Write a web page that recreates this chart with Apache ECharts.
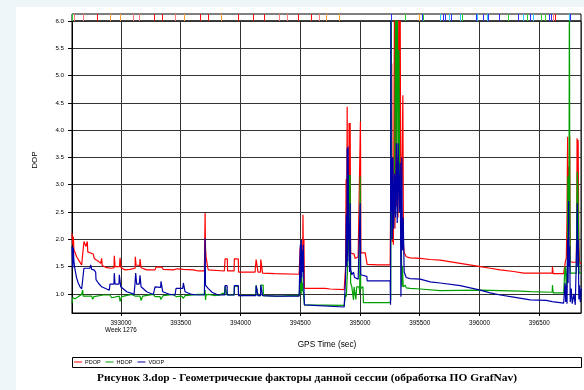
<!DOCTYPE html>
<html>
<head>
<meta charset="utf-8">
<script src="https://cdn.jsdelivr.net/npm/echarts@6/dist/echarts.min.js"></script>
<style>
  html, body { margin: 0; padding: 0; background: #eef6f9; }
  #chart { position: absolute; left: 16px; top: 7px; width: 568px; height: 383px; background: #fff; }
</style>
</head>
<body>
<div id="chart"></div>
<script>
// GPS time (s) / DOP value pairs
const pdop = [
  [392590, 2.11], [392596, 1.90], [392601, 2.05], [392606, 1.81], [392629, 1.68], [392651, 1.60],
  [392671, 1.53], [392684, 1.50], [392690, 1.96], [392698, 1.93], [392707, 1.87], [392716, 1.87],
  [392718, 1.96], [392722, 1.77], [392746, 1.75], [392768, 1.73], [392776, 1.65], [392810, 1.60],
  [392830, 1.56], [392836, 1.56], [392838, 1.65], [392843, 1.52], [392880, 1.48], [392922, 1.47],
  [392942, 1.48], [392944, 1.70], [392950, 1.50], [392988, 1.50], [392992, 1.66], [393000, 1.48],
  [393034, 1.44], [393075, 1.45], [393118, 1.47], [393120, 1.68], [393126, 1.53], [393157, 1.52],
  [393159, 1.64], [393168, 1.48], [393215, 1.44], [393285, 1.44], [393293, 1.49], [393341, 1.49],
  [393354, 1.45], [393438, 1.44], [393472, 1.46], [393522, 1.45], [393606, 1.44], [393647, 1.42],
  [393698, 1.42], [393702, 1.42], [393704, 2.48], [393707, 1.85], [393712, 1.68], [393726, 1.48],
  [393731, 1.44], [393865, 1.42], [393869, 1.42], [393871, 1.64], [393890, 1.64], [393892, 1.42],
  [393947, 1.42], [393949, 1.64], [393982, 1.64], [393984, 1.40], [394122, 1.40], [394129, 1.40],
  [394131, 1.63], [394145, 1.63], [394147, 1.40], [394168, 1.40], [394170, 1.63], [394183, 1.63],
  [394185, 1.38], [394290, 1.37], [394491, 1.36], [394497, 1.35], [394500, 1.85], [394504, 1.40],
  [394508, 1.87], [394512, 1.45], [394516, 1.80], [394520, 1.50], [394523, 2.45], [394527, 1.55],
  [394531, 2.00], [394535, 1.10], [394541, 1.11], [394709, 1.10], [394750, 1.09], [394868, 1.08],
  [394876, 1.10], [394880, 1.50], [394884, 3.10], [394888, 1.60], [394893, 4.43], [394897, 1.70],
  [394901, 3.50], [394905, 1.80], [394909, 4.13], [394913, 2.00], [394918, 4.13], [394922, 1.75],
  [394935, 1.75], [394951, 1.73], [394960, 1.65], [394985, 1.68], [395000, 1.70], [395004, 4.16],
  [395008, 1.75], [395044, 1.75], [395058, 1.75], [395060, 1.54], [395150, 1.53], [395236, 1.53],
  [395253, 1.53], [395261, 1.50], [395266, 5.22], [395270, 1.95], [395274, 2.30], [395280, 1.90],
  [395290, 6.80], [395293, 2.20], [395299, 6.80], [395305, 2.60], [395312, 3.50], [395318, 2.40],
  [395326, 6.80], [395330, 2.80], [395336, 6.80], [395342, 2.30], [395350, 3.00], [395359, 4.64],
  [395364, 1.90], [395370, 1.76], [395387, 1.68], [395420, 1.66], [395504, 1.65], [395588, 1.63],
  [395672, 1.62], [395839, 1.56], [396007, 1.50], [396090, 1.47], [396174, 1.44], [396286, 1.41],
  [396370, 1.38], [396609, 1.38], [396611, 1.50], [396617, 1.37], [396705, 1.37], [396712, 1.37],
  [396719, 1.59], [396727, 1.65], [396733, 2.40], [396738, 3.88], [396742, 2.00], [396746, 3.33],
  [396750, 2.20], [396755, 3.88], [396760, 1.59], [396777, 1.58], [396811, 1.58], [396815, 2.50],
  [396817, 3.85], [396821, 2.00], [396826, 3.82], [396832, 1.90], [396838, 1.57], [396844, 1.55],
  [396852, 1.55]
];

const hdop = [
  [392590, 0.83], [392596, 0.93], [392601, 0.90], [392615, 0.91], [392642, 0.95], [392671, 0.99],
  [392679, 1.07], [392684, 0.96], [392755, 0.96], [392763, 0.90], [392774, 0.95], [392852, 0.98],
  [392908, 0.98], [392922, 0.93], [392930, 0.95], [392986, 0.96], [392992, 0.86], [393006, 0.95],
  [393090, 0.99], [393117, 0.96], [393159, 0.96], [393168, 0.88], [393182, 0.96], [393271, 0.99],
  [393285, 0.95], [393327, 0.95], [393332, 0.90], [393354, 0.97], [393438, 0.99], [393461, 0.95],
  [393508, 0.96], [393522, 0.92], [393536, 0.97], [393647, 0.99],
  [393698, 0.99], [393702, 0.99], [393704, 1.07], [393707, 0.89], [393712, 0.98], [393731, 0.99],
  [393780, 0.97], [393829, 0.98], [393846, 1.01], [393869, 1.01], [393871, 1.14], [393885, 1.14],
  [393887, 0.98], [393947, 0.98], [393949, 1.14], [393982, 1.14], [393984, 0.97], [394129, 0.98],
  [394131, 1.16], [394145, 1.16], [394147, 0.97], [394168, 0.97], [394170, 1.16], [394190, 1.16],
  [394192, 0.97], [394290, 0.96], [394350, 0.96], [394400, 0.97], [394491, 0.97], [394499, 0.97],
  [394503, 1.30], [394508, 1.00], [394512, 1.40], [394516, 1.05], [394520, 1.20], [394527, 1.00],
  [394535, 0.80], [394541, 0.79], [394868, 0.79],
  [394876, 0.79], [394880, 1.00], [394886, 0.95], [394893, 1.30], [394901, 1.80], [394910, 3.18],
  [394914, 1.40], [394918, 3.18], [394922, 1.20], [394932, 1.13], [394940, 1.13], [394946, 0.89],
  [394951, 1.13], [394960, 1.10], [394966, 0.90], [394973, 1.13], [394994, 1.13], [394998, 1.00],
  [395002, 3.15], [395006, 1.10], [395016, 1.13], [395025, 1.13], [395029, 0.84], [395253, 0.84],
  [395258, 0.90], [395262, 6.80], [395266, 2.00], [395272, 3.00], [395280, 2.20], [395290, 3.20],
  [395300, 6.80], [395305, 3.51], [395312, 6.80], [395320, 3.51], [395326, 5.47], [395334, 2.50],
  [395342, 3.00], [395350, 1.13], [395356, 1.50], [395362, 1.13], [395379, 1.16], [395387, 1.11],
  [395420, 1.10], [395504, 1.09], [395672, 1.06], [396007, 1.07], [396174, 1.06], [396342, 1.05],
  [396425, 1.04], [396609, 1.03], [396611, 1.16], [396617, 1.02], [396705, 1.02], [396712, 1.02],
  [396716, 1.50], [396722, 1.45], [396727, 1.02], [396736, 1.50], [396740, 3.15], [396746, 2.20],
  [396750, 3.15], [396753, 6.80], [396756, 3.00], [396760, 1.38], [396811, 1.38], [396815, 2.60],
  [396819, 3.24], [396823, 3.03], [396828, 2.40], [396834, 1.38], [396852, 1.38]
];

const vdop = [
  [392590, 1.87], [392596, 1.47], [392601, 1.85], [392606, 1.59], [392615, 1.45], [392629, 1.29],
  [392642, 1.20], [392657, 1.13], [392671, 1.09], [392684, 1.07], [392690, 1.47], [392740, 1.47],
  [392746, 1.53], [392755, 1.45], [392774, 1.44], [392788, 1.40], [392791, 1.26], [392810, 1.20],
  [392838, 1.13], [392880, 1.09], [392902, 1.07], [392908, 1.18], [392941, 1.18], [392944, 1.38],
  [392950, 1.18], [392983, 1.18], [392986, 1.35], [392998, 1.13], [393048, 1.04], [393090, 1.01],
  [393109, 0.99], [393117, 1.18], [393123, 1.38], [393131, 1.18], [393153, 1.18], [393159, 1.34],
  [393168, 1.13], [393215, 1.04], [393271, 0.99], [393285, 1.13], [393332, 1.12], [393335, 1.23],
  [393349, 1.04], [393410, 0.99], [393452, 0.98], [393461, 1.10], [393517, 1.10], [393522, 1.20],
  [393536, 1.04], [393592, 0.99], [393647, 0.98],
  [393698, 0.98], [393702, 0.98], [393704, 2.02], [393707, 1.16], [393712, 1.16], [393729, 1.10],
  [393762, 1.03], [393812, 0.98], [393869, 0.98], [393871, 1.15], [393888, 1.15], [393890, 0.98],
  [393947, 0.98], [393949, 1.15], [393982, 1.15], [393984, 0.97], [394129, 0.97], [394131, 1.15],
  [394145, 1.15], [394147, 0.97], [394168, 0.97], [394170, 1.16], [394183, 1.16], [394185, 0.97],
  [394290, 0.96], [394491, 0.96], [394499, 0.96], [394501, 1.90], [394505, 1.20], [394509, 1.99],
  [394513, 1.30], [394517, 1.80], [394521, 1.40], [394526, 1.90], [394530, 1.20], [394535, 0.80],
  [394541, 0.77], [394868, 0.76],
  [394876, 0.76], [394880, 1.30], [394886, 2.45], [394890, 1.50], [394893, 3.67], [394897, 1.60],
  [394901, 3.70], [394905, 2.00], [394909, 2.30], [394913, 1.40], [394918, 2.66], [394922, 1.45],
  [394932, 1.35], [394940, 1.32], [394946, 1.40], [394955, 1.30], [394968, 1.28], [394985, 1.27],
  [394998, 1.26], [395002, 2.66], [395006, 1.35], [395016, 1.32], [395058, 1.32], [395060, 1.24],
  [395253, 1.24], [395256, 0.80], [395258, 6.80], [395262, 2.50], [395266, 3.50], [395270, 2.00],
  [395276, 3.50], [395282, 2.20], [395290, 3.20], [395297, 2.40], [395305, 3.76], [395312, 2.30],
  [395320, 3.76], [395328, 2.50], [395337, 3.40], [395343, 0.95], [395350, 3.50], [395356, 1.80],
  [395362, 2.40], [395370, 1.40], [395379, 1.35], [395387, 1.30], [395420, 1.28], [395504, 1.27],
  [395588, 1.22], [395672, 1.20], [395839, 1.15], [396007, 1.07], [396090, 1.02], [396174, 0.98],
  [396286, 0.94], [396425, 0.89], [396560, 0.88], [396609, 0.86], [396705, 0.83], [396712, 0.83],
  [396716, 1.20], [396722, 0.85], [396727, 1.16], [396733, 0.82], [396738, 2.00], [396742, 1.20],
  [396746, 2.70], [396750, 1.50], [396755, 1.87], [396760, 0.85], [396768, 1.10], [396777, 0.82],
  [396790, 1.00], [396802, 0.80], [396811, 0.82], [396815, 2.00], [396819, 2.66], [396823, 1.50],
  [396827, 1.99], [396832, 0.90], [396838, 1.16], [396844, 0.85], [396852, 1.10]
];

// satellite events shown in the strip above the plot
const eventTimes = [
  392590, 392606, 392682, 392799, 392908, 392992, 393100, 393151, 393276, 393343, 393452, 393528,
  393662, 393729, 393838, 393980, 394106, 394198, 394323, 394390, 394482, 394591, 394658, 394717,
  394826, 395259, 395379, 395496, 395518, 395529, 395672, 395697, 395714, 395747, 395764, 395839,
  395853, 395971, 395979, 396032, 396063, 396074, 396166, 396241, 396322, 396325, 396367, 396398,
  396425, 396451, 396518, 396551, 396585, 396601, 396618, 396635, 396752, 396760
];
const eventKinds = [
  'g', 'p', 'p', 'r', 'o', 'o', 'p', 'p', 'r', 'r', 'p', 'o',
  'r', 'r', 'o', 'r', 'r', 'r', 'p', 'p', 'r', 'r', 'p', 'o',
  'o', 'b', 'g', 'o', 'b', 'g', 'c', 'b', 'b', 'c', 'b', 'c',
  'g', 'b', 'c', 'b', 'c', 'b', 'b', 'g', 'g', 'b', 'c', 'g',
  'b', 'c', 'g', 'g', 'b', 'b', 'p', 'r', 'c', 'b'
];

const seriesNames = ['PDOP', 'HDOP', 'VDOP'];
const timeRange = [392590, 396850];
const dopRange = [0.65, 6.0];
const weekTick = 393000;
const weekText = 'Week 1276';
const xTitle = 'GPS Time (sec)';
const yTitle = 'DOP';
const caption = 'Рисунок 3.dop - Геометрические факторы данной сессии (обработка ПО GrafNav)';

const kindColors = { r: '#ff1010', p: '#ff7a7a', o: '#ffa030', g: '#30d030', b: '#3030ff', c: '#30c8ff' };
const lineColors = ['#ff0000', '#00a000', '#0000a8'];
const font = 'Liberation Sans, Arial, sans-serif';

const chart = echarts.init(document.getElementById('chart'), null, { renderer: 'canvas' });

const gridLine = { show: true, lineStyle: { color: '#333', width: 1 } };

chart.setOption({
  animation: false,
  backgroundColor: '#ffffff',
  textStyle: { fontFamily: font },
  grid: [
    { left: 56, top: 14, width: 509, height: 292, show: true, borderColor: '#000', borderWidth: 1, containLabel: false },
    { left: 56, top: 7, width: 509, height: 7, show: true, borderColor: '#000', borderWidth: 1, containLabel: false }
  ],
  xAxis: [
    {
      gridIndex: 0, type: 'value', min: timeRange[0], max: timeRange[1],
      splitNumber: 8, minInterval: 500, maxInterval: 500,
      axisLine: { show: true, onZero: false, lineStyle: { color: '#000', width: 1 } },
      axisTick: { show: true, inside: false, length: 3, lineStyle: { color: '#000' } },
      axisLabel: {
        show: true, margin: 7, fontSize: 6.3, color: '#000', lineHeight: 7,
        showMinLabel: false, showMaxLabel: false,
        formatter: v => (v === weekTick ? v + '\n' + weekText : String(v))
      },
      splitLine: gridLine
    },
    { gridIndex: 1, type: 'value', min: timeRange[0], max: timeRange[1], show: false }
  ],
  yAxis: [
    {
      gridIndex: 0, type: 'value', min: dopRange[0], max: dopRange[1],
      splitNumber: 10, minInterval: 0.5, maxInterval: 0.5,
      axisLine: { show: true, onZero: false, lineStyle: { color: '#000', width: 1 } },
      axisTick: { show: true, inside: false, length: 4, lineStyle: { color: '#000' } },
      axisLabel: {
        show: true, margin: 8, fontSize: 6.2, color: '#000',
        showMinLabel: false, formatter: v => v.toFixed(1)
      },
      splitLine: gridLine
    },
    { gridIndex: 1, type: 'value', min: 0, max: 1, show: false }
  ],
  legend: {
    data: seriesNames,
    left: 58, top: 352,
    icon: 'rect', itemWidth: 8, itemHeight: 1, itemGap: 5,
    textStyle: { fontSize: 5.5, color: '#000', padding: [0, 0, 0, -2] },
    padding: 0
  },
  graphic: [
    { type: 'rect', z: 1, shape: { x: 56.5, y: 350.5, width: 509, height: 10 },
      style: { fill: 'none', stroke: '#000', lineWidth: 1 } },
    { type: 'text', z: 5, x: 19, y: 153, rotation: Math.PI / 2,
      style: { text: yTitle, fontSize: 8, fontFamily: font, fill: '#000', textAlign: 'center', textVerticalAlign: 'middle' } },
    { type: 'text', z: 5, x: 311, y: 338,
      style: { text: xTitle, fontSize: 8.3, fontFamily: font, fill: '#000', textAlign: 'center', textVerticalAlign: 'middle' } },
    { type: 'text', z: 5, x: 291, y: 371,
      style: { text: caption, fontSize: 11.4, fontWeight: 'bold', fontFamily: 'Liberation Serif, Times New Roman, serif', fill: '#000', textAlign: 'center', textVerticalAlign: 'middle' } }
  ],
  series: [
    {
      name: seriesNames[0], type: 'line', xAxisIndex: 0, yAxisIndex: 0, data: pdop,
      showSymbol: false, symbol: 'none', clip: true,
      lineStyle: { color: lineColors[0], width: 1.2 }, itemStyle: { color: lineColors[0] }, z: 3
    },
    {
      name: seriesNames[1], type: 'line', xAxisIndex: 0, yAxisIndex: 0, data: hdop,
      showSymbol: false, symbol: 'none', clip: true,
      lineStyle: { color: lineColors[1], width: 1.2 }, itemStyle: { color: lineColors[1] }, z: 4
    },
    {
      name: seriesNames[2], type: 'line', xAxisIndex: 0, yAxisIndex: 0, data: vdop,
      showSymbol: false, symbol: 'none', clip: true,
      lineStyle: { color: lineColors[2], width: 1.2 }, itemStyle: { color: lineColors[2] }, z: 5
    },
    {
      type: 'custom', xAxisIndex: 1, yAxisIndex: 1, silent: true,
      data: eventTimes.map(t => [t, 0]),
      renderItem: (params, api) => {
        const top = api.coord([api.value(0), 1]);
        const bottom = api.coord([api.value(0), 0]);
        const x = Math.round(top[0]) + 0.5;
        return {
          type: 'line',
          shape: { x1: x, y1: top[1], x2: x, y2: bottom[1] },
          style: { stroke: kindColors[eventKinds[params.dataIndex]], lineWidth: 1 }
        };
      }
    }
  ]
});
</script>
</body>
</html>
